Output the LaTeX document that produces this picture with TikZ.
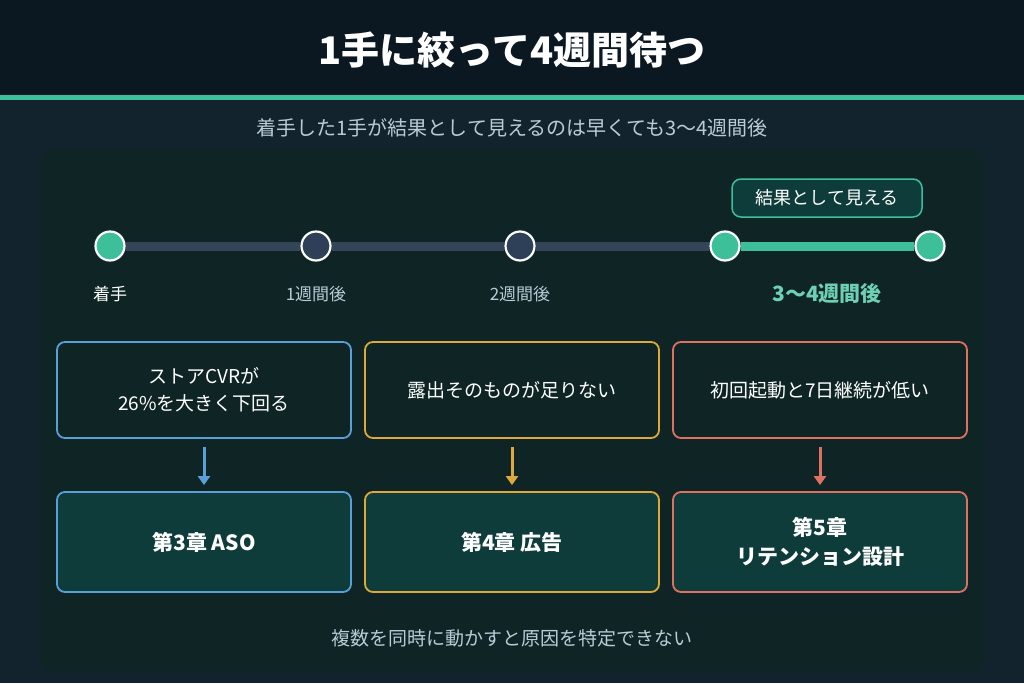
\documentclass[tikz,border=0pt]{standalone}
\usepackage{fontspec}
\setmainfont{Noto Sans CJK JP}
\usetikzlibrary{arrows.meta}
\definecolor{bgA}{HTML}{0B1822}
\definecolor{bgB}{HTML}{13232E}
\definecolor{panel}{HTML}{0F2424}
\definecolor{teal}{HTML}{3DBF9A}
\definecolor{grayl}{HTML}{34455A}
\definecolor{navy}{HTML}{2E3F58}
\definecolor{cb}{HTML}{5AA0D8}
\definecolor{cg}{HTML}{E0A83A}
\definecolor{cr}{HTML}{E07060}
\definecolor{boxf}{HTML}{0E3C3A}
\definecolor{sub}{HTML}{B8CCD8}
\begin{document}
\begin{tikzpicture}[x=1pt,y=-1pt,
 dot/.style={circle,draw=white,line width=2.2pt,minimum size=29pt,inner sep=0},
 tl/.style={font=\fontsize{17}{20}\selectfont,text=white},
 q/.style={rounded corners=8pt,line width=1.8pt,fill=panel,minimum width=294pt,minimum height=96pt,align=center,text=white,font=\fontsize{19}{27}\selectfont},
 a/.style={rounded corners=8pt,line width=1.8pt,fill=boxf,minimum width=294pt,minimum height=100pt,align=center,text=white,font=\bfseries\fontsize{21}{29}\selectfont},
 ar/.style={line width=3pt,-{Triangle[width=12pt,length=9pt]}}]
\useasboundingbox (0,0) rectangle (1024,683);
\fill[bgB] (0,0) rectangle (1024,683);
\fill[bgA] (0,0) rectangle (1024,95);
\fill[teal] (0,95) rectangle (1024,100);
\node[text=white,font=\bfseries\fontsize{38}{44}\selectfont] (title) at (512,50) {1手に絞って4週間待つ};
\node[text=sub,font=\fontsize{20}{24}\selectfont] (subt) at (512,128) {着手した1手が結果として見えるのは早くても3〜4週間後};
\fill[panel] (40,150) [rounded corners=14pt] rectangle (985,672);
\node[dot,fill=teal] (t0) at (110,246) {};
\node[dot,fill=navy] (t1) at (316,246) {};
\node[dot,fill=navy] (t2) at (520,246) {};
\node[dot,fill=teal] (t3) at (725,246) {};
\node[dot,fill=teal] (t4) at (930,246) {};
\draw[grayl,line width=9pt] (t0.east) -- (t1.west) (t1.east) -- (t2.west) (t2.east) -- (t3.west);
\draw[teal,line width=9pt] (t3.east) -- (t4.west);
\node[tl] (l0) at (110,294) {着手};
\node[tl,text=sub] (l1) at (316,294) {1週間後};
\node[tl,text=sub] (l2) at (520,294) {2週間後};
\node[tl,text=teal!75!white,font=\bfseries\fontsize{21}{24}\selectfont] (l3) at (827,294) {3〜4週間後};
\node[draw=teal,fill=boxf,rounded corners=9pt,line width=1.5pt,minimum width=190pt,minimum height=38pt,text=white,font=\fontsize{18}{22}\selectfont] (res) at (827,198) {結果として見える};
\node[q,draw=cb] (q1) at (204,390) {ストアCVRが\\26\%を大きく下回る};
\node[q,draw=cg] (q2) at (512,390) {露出そのものが足りない};
\node[q,draw=cr] (q3) at (820,390) {初回起動と7日継続が低い};
\node[a,draw=cb] (a1) at (204,542) {第3章 ASO};
\node[a,draw=cg] (a2) at (512,542) {第4章 広告};
\node[a,draw=cr] (a3) at (820,542) {第5章\\リテンション設計};
\draw[ar,cb] ([yshift=-8pt]q1.south) -- ([yshift=6pt]a1.north);
\draw[ar,cg] ([yshift=-8pt]q2.south) -- ([yshift=6pt]a2.north);
\draw[ar,cr] ([yshift=-8pt]q3.south) -- ([yshift=6pt]a3.north);
\node[text=sub,font=\fontsize{19}{22}\selectfont] (foot) at (512,638) {複数を同時に動かすと原因を特定できない};
\end{tikzpicture}
\end{document}
